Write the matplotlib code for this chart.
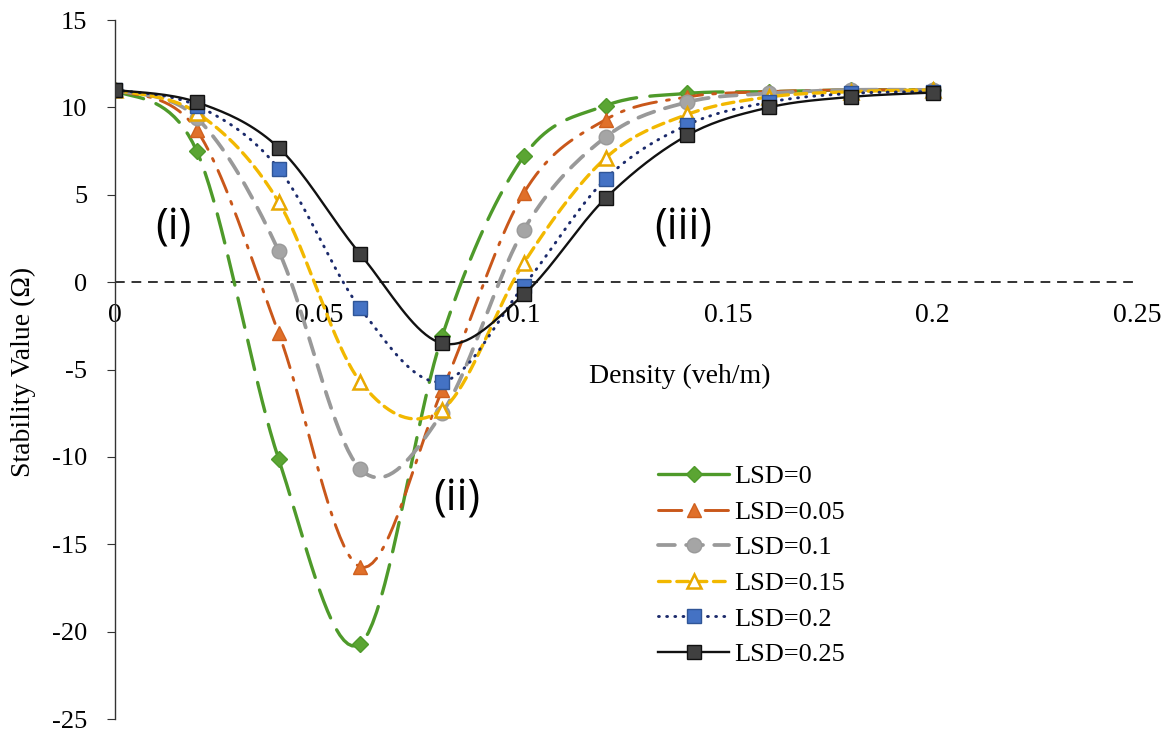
import numpy as np
import matplotlib.pyplot as plt
from matplotlib.ticker import FuncFormatter

plt.rcParams['font.family'] = ['Liberation Serif', 'DejaVu Serif']
plt.rcParams['axes.unicode_minus'] = False

density = [0, 0.02, 0.04, 0.06, 0.08, 0.1, 0.12, 0.14, 0.16, 0.18, 0.2]
lsd_0 = [11.0, 7.5, -10.1, -20.7, -3.1, 7.2, 10.1, 10.8, 10.9, 11.0, 11.0]
lsd_005 = [11.0, 8.7, -2.9, -16.3, -6.2, 5.1, 9.3, 10.6, 10.9, 11.0, 11.0]
lsd_01 = [11.0, 9.4, 1.8, -10.7, -7.5, 3.0, 8.3, 10.3, 10.8, 11.0, 11.0]
lsd_015 = [11.0, 9.7, 4.6, -5.7, -7.3, 1.1, 7.1, 9.6, 10.6, 10.9, 11.0]
lsd_02 = [11.0, 10.1, 6.5, -1.5, -5.7, -0.2, 5.9, 9.0, 10.3, 10.8, 10.9]
lsd_025 = [11.0, 10.3, 7.7, 1.6, -3.5, -0.7, 4.8, 8.4, 10.0, 10.6, 10.85]
labels = ['LSD=0', 'LSD=0.05', 'LSD=0.1', 'LSD=0.15', 'LSD=0.2', 'LSD=0.25']
xticks = [0, 0.05, 0.1, 0.15, 0.2, 0.25]

STEPS = 20


def smooth(x, y):
    # excel style smoothed line (bezier through the points)
    x = np.asarray(x, float)
    y = np.asarray(y, float)
    px = np.concatenate([[x[0]], x, [x[-1]]])
    py = np.concatenate([[y[0]], y, [y[-1]]])
    t = np.linspace(0, 1, STEPS, endpoint=False)[:, None]
    xs, ys = [], []
    for i in range(1, len(x)):
        for arr, out in ((px, xs), (py, ys)):
            p0, p3 = arr[i], arr[i + 1]
            c1 = p0 + (arr[i + 1] - arr[i - 1]) / 6
            c2 = p3 - (arr[i + 2] - arr[i]) / 6
            b = (1 - t) ** 3 * p0 + 3 * (1 - t) ** 2 * t * c1 + 3 * (1 - t) * t ** 2 * c2 + t ** 3 * p3
            out.append(b.ravel())
    xs.append([x[-1]])
    ys.append([y[-1]])
    return np.concatenate(xs), np.concatenate(ys)


styles = [
    dict(color='#4E9A2A', lw=2.4, dashes=(9, 4), marker='D', ms=8.5, mfc='#5BA533', mec='#4E9A2A'),
    dict(color='#C9571A', lw=2.1, dashes=(8, 3.5, 1, 3.5), marker='^', ms=10.5, mfc='#E0702A', mec='#D0601E'),
    dict(color='#999999', lw=2.7, dashes=(4.5, 3), marker='o', ms=10.5, mfc='#A5A5A5', mec='#9A9A9A'),
    dict(color='#F2B800', lw=2.4, dashes=(3.5, 2), marker='^', ms=10, mfc='white', mec='#E8A800', mew=1.8),
    dict(color='#1B2A6B', lw=2.1, dashes=(0.3, 2.5), marker='s', ms=10.5, mfc='#4472C4', mec='#2F5597'),
    dict(color='#111111', lw=1.7, dashes=None, marker='s', ms=9.5, mfc='#404040', mec='#111111'),
]

series = [lsd_0, lsd_005, lsd_01, lsd_015, lsd_02, lsd_025]

fig = plt.figure(figsize=(11.7, 7.31), dpi=100)
ax = fig.add_axes([0.0983, 0.0164, 0.8735, 0.9562])

for vals, lab, st in zip(series, labels, styles):
    sx, sy = smooth(density, vals)
    st = dict(st)
    dashes = st.pop('dashes')
    line, = ax.plot(sx, sy, label=lab, markevery=STEPS, **st)
    if dashes is not None:
        line.set_dashes(dashes)
    line.set_dash_capstyle('round')

# zero line (horizontal axis crossing)
ax.axhline(0, color='#333333', lw=1.4, dashes=(5, 3.5), zorder=0)

ax.set_xlim(0, 0.25)
ax.set_ylim(-25, 15)
ax.set_xticks(xticks)
ax.xaxis.set_major_formatter(FuncFormatter(lambda v, p: f'{v:g}'))
ax.set_yticks(np.arange(-25, 16, 5))

for s in ['top', 'right', 'bottom']:
    ax.spines[s].set_visible(False)
ax.spines['left'].set_color('#333333')
ax.spines['left'].set_linewidth(1.0)
ax.spines['bottom'].set_position(('data', 0))

ax.tick_params(axis='x', length=0, pad=15, labelsize=20)
ax.tick_params(axis='y', direction='out', length=6, color='#333333', labelsize=19, pad=14)

ax.set_xlabel('Density (veh/m)', fontsize=20)
ax.xaxis.set_label_coords(0.553, 0.508)
ax.set_ylabel('Stability Value (Ω)', fontsize=20)
ax.yaxis.set_label_coords(-0.077, 0.496)

ax.text(0.0142, 3.1, '(i)', fontsize=31, family='Open Sans', ha='center', va='center')
ax.text(0.0836, -12.4, '(ii)', fontsize=31, family='Open Sans', ha='center', va='center')
ax.text(0.139, 3.1, '(iii)', fontsize=31, family='Open Sans', ha='center', va='center')

ax.legend(loc='upper left', bbox_to_anchor=(0.521, 0.379), frameon=False, fontsize=19,
          handlelength=2.7, handletextpad=0.2, labelspacing=0.46, borderaxespad=0)

fig.savefig('out.png', dpi=100)
